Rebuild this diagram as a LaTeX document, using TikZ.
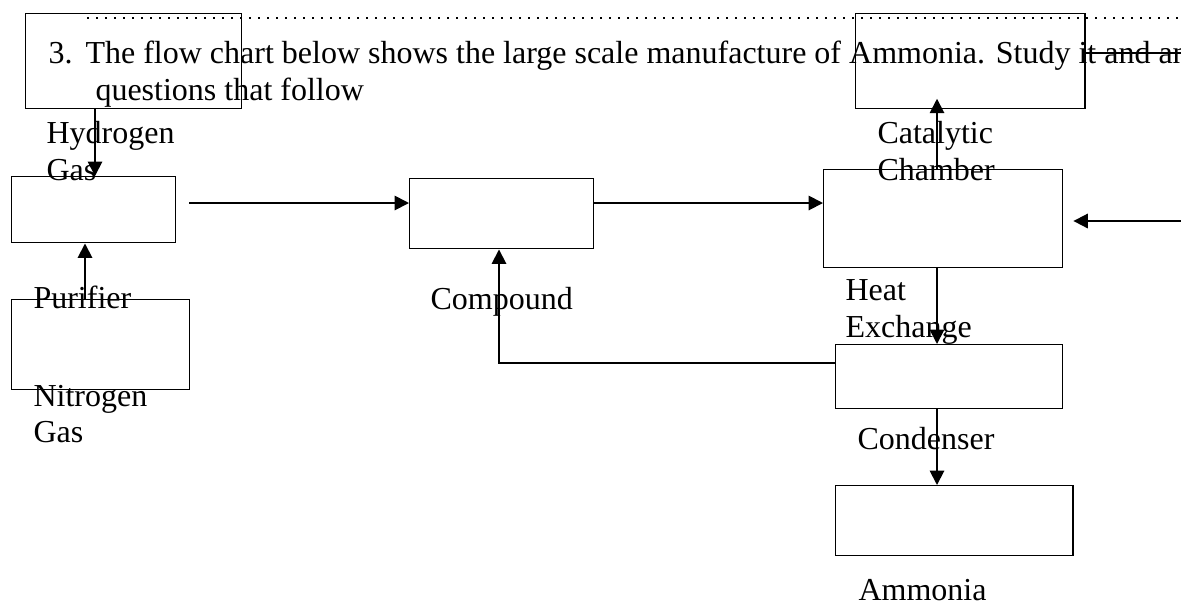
\documentclass[tikz,border=0pt]{standalone}
\usepackage{fontspec}
\setmainfont{Liberation Serif}
\usetikzlibrary{arrows.meta}

\begin{document}
\begin{tikzpicture}[
    x=0.375pt, y=-0.375pt,
    box/.style={rectangle, draw, line width=0.55pt, inner sep=0pt, anchor=north west},
    lbl/.style={anchor=base west, inner sep=0pt, font=\fontsize{12}{14}\selectfont},
    arrow/.style={-{Triangle[length=5.4pt, width=5.4pt]}, line width=0.7pt}
]
\useasboundingbox (0,0) rectangle (1181,605);
\clip (0,0) rectangle (1181,605);

% Question text
\draw[line width=0.75pt, dash pattern=on 0.75pt off 2.625pt] (87,18) -- (1181,18);
\node[lbl] (num) at (48,63) {3.};
\node[lbl] (title) at (85,63) {The flow chart below shows the large scale manufacture of Ammonia. Study it and an};
\node[lbl] (title2) at (95,100) {questions that follow};

% Boxes
\node[box, minimum width=81pt, minimum height=35.6pt] (h2box) at (25,13) {};
\node[box, minimum width=61.5pt, minimum height=24.75pt] (purbox) at (11,176) {};
\node[box, minimum width=66.75pt, minimum height=33.75pt] (n2box) at (11,299) {};
\node[box, minimum width=69pt, minimum height=26.25pt] (compbox) at (409,178) {};
\node[box, minimum width=85.9pt, minimum height=35.6pt] (catbox) at (855,13) {};
\node[box, minimum width=89.6pt, minimum height=36.75pt] (heatbox) at (823,169) {};
\node[box, minimum width=85.1pt, minimum height=24pt] (condbox) at (835,344) {};
\node[box, minimum width=88.9pt, minimum height=26.25pt] (nh3box) at (835,485) {};

% Labels under the boxes
\node[lbl] (h2a) at (46,143) {Hydrogen};
\node[lbl] (h2b) at (46,180) {Gas};
\node[lbl] (pur) at (33,308) {Purifier};
\node[lbl] (n2a) at (33,406) {Nitrogen};
\node[lbl] (n2b) at (33,442) {Gas};
\node[lbl] (comp) at (430,309) {Compound};
\node[lbl] (cata) at (877,143) {Catalytic};
\node[lbl] (catb) at (877,180) {Chamber};
\node[lbl] (heata) at (845,300) {Heat};
\node[lbl] (heatb) at (845,337) {Exchange};
\node[lbl] (cond) at (857,449) {Condenser};
\node[lbl] (nh3) at (858,600) {Ammonia};

% Free ends
\coordinate (feed) at (189,203);
\coordinate (recycle) at (1181,221);
\coordinate (strike) at (1181,53);

% Arrows
\draw[arrow] (h2box.south -| 95,0) -- (purbox.north -| 95,0);
\draw[arrow] (n2box.north -| 85,0) -- (purbox.south -| 85,0);
\draw[arrow] (feed) -- (compbox.west |- feed);
\draw[arrow] (compbox.east |- feed) -- (heatbox.west |- feed);
\draw[arrow, shorten >=-4pt] (heatbox.north -| 937,0) -- (catbox.south -| 937,0);
\draw[arrow, shorten >=3.75pt] (recycle) -- (heatbox.east |- recycle);
\draw[arrow] (heatbox.south -| 937,0) -- (condbox.north -| 937,0);
\draw[arrow] (condbox.west |- 0,363) -| (compbox.south -| 499,0);
\draw[arrow] (condbox.south -| 937,0) -- (nh3box.north -| 937,0);
\draw[line width=0.55pt] (catbox.east |- strike) -- (strike);
\end{tikzpicture}
\end{document}
